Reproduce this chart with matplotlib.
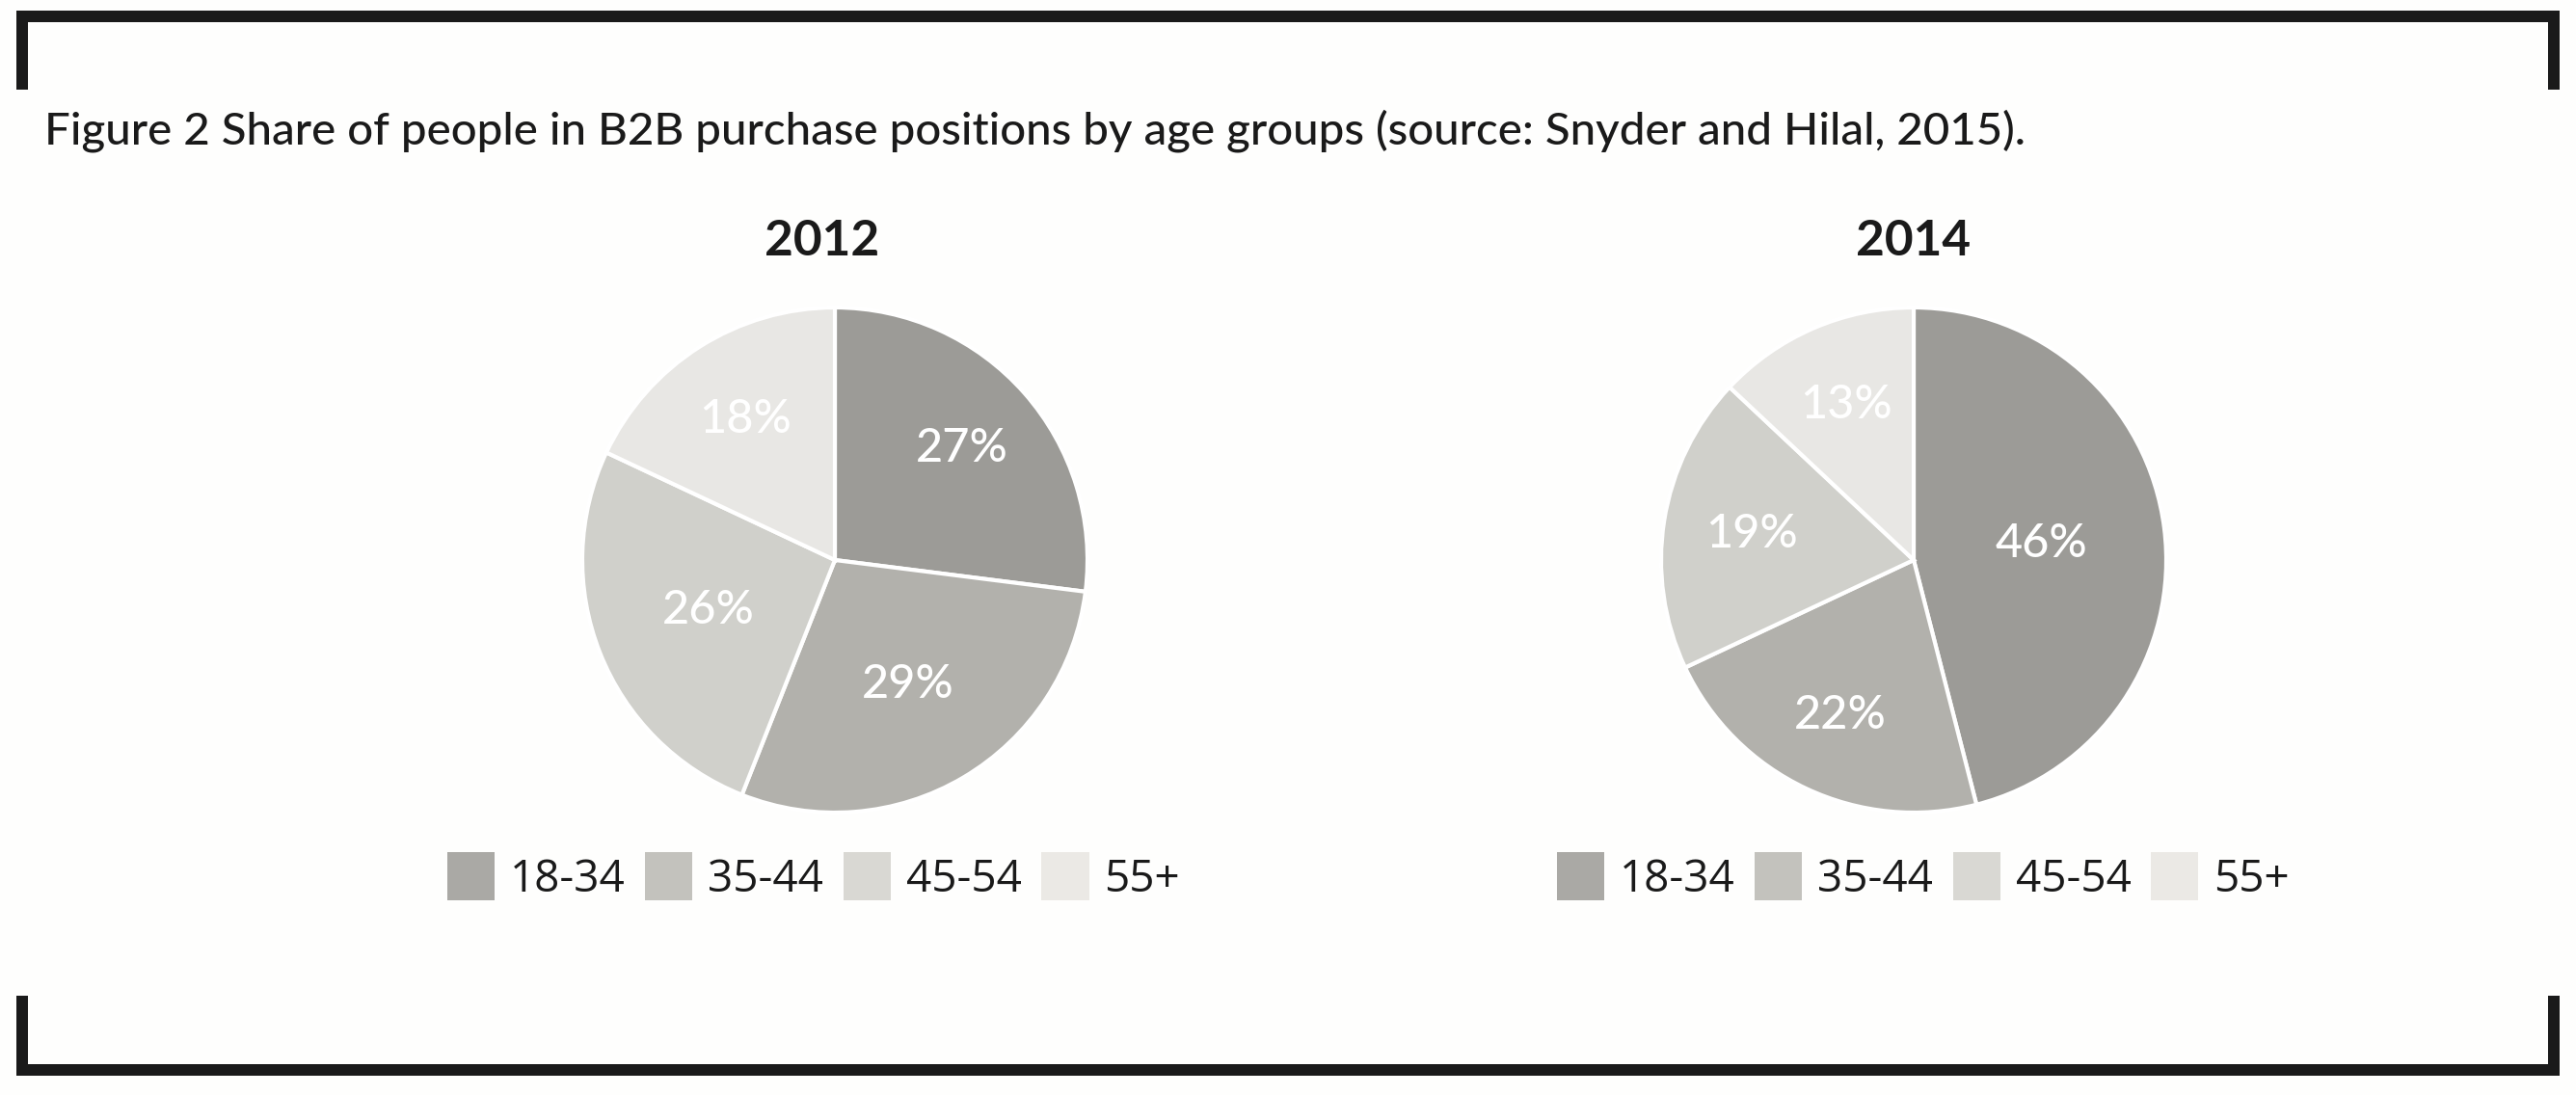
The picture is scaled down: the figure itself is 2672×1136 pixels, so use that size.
import numpy as np
import matplotlib.pyplot as plt
from matplotlib.patches import Rectangle, Patch

age_groups = ['18-34', '35-44', '45-54', '55+']
years = ['2012', '2014']
share_2012 = [27, 29, 26, 18]
share_2014 = [46, 22, 19, 13]
title = ('Figure 2 Share of people in B2B purchase positions by age groups '
         '(source: Snyder and Hilal, 2015).')

# --- styles / layout (pixels, origin top-left) ---
W, H, DPI = 2672, 1136, 100
ink = '#1a1a1a'
slice_colors = ['#9c9b97', '#b2b1ac', '#d0d0cb', '#e8e7e4']
legend_colors = ['#aaa9a5', '#c3c2bd', '#d9d8d3', '#ebe9e5']
label_radius = [[0.67, 0.57, 0.54, 0.66], [0.51, 0.68, 0.65, 0.67]]
pie_centers = [(866, 581), (1985, 581)]
year_x = [853, 1985]
legend_x = [844, 1995]
R = 262
frame_bars = [
    (17, 11, 2655, 23), (17, 11, 29, 93), (2643, 11, 2655, 93),
    (17, 1104, 2655, 1116), (17, 1033, 29, 1116), (2643, 1033, 2655, 1116),
]
medium = ['Lato', 'Open Sans', 'DejaVu Sans']

plt.rcParams['font.family'] = ['Open Sans', 'DejaVu Sans']

fig = plt.figure(figsize=(W / DPI, H / DPI), dpi=DPI)
fig.patch.set_facecolor('#fefefd')

bg = fig.add_axes([0, 0, 1, 1])
bg.set_xlim(0, W)
bg.set_ylim(H, 0)
bg.axis('off')
for x0, y0, x1, y1 in frame_bars:
    bg.add_patch(Rectangle((x0, y0), x1 - x0, y1 - y0, color=ink, lw=0))

t = bg.text(46, 149, title, fontsize=33, family=medium, fontweight='medium',
            color=ink, ha='left', va='baseline')
fig.canvas.draw()
t.set_fontsize(33 * 2052 / t.get_window_extent().width)

for i, shares in enumerate([share_2012, share_2014]):
    cx, cy = pie_centers[i]
    ax = fig.add_axes([(cx - R) / W, 1 - (cy + R) / H, 2 * R / W, 2 * R / H])
    wedges, _, autotexts = ax.pie(
        shares, colors=slice_colors, startangle=90, counterclock=False,
        autopct='%.0f%%', pctdistance=0.62,
        wedgeprops=dict(edgecolor='white', linewidth=3),
        textprops=dict(color='white', fontsize=35, family=medium,
                       fontweight='medium'))
    ax.set_xlim(-1, 1)
    ax.set_ylim(-1, 1)
    for w, txt, r in zip(wedges, autotexts, label_radius[i]):
        a = np.deg2rad((w.theta1 + w.theta2) / 2)
        txt.set_position((r * np.cos(a), r * np.sin(a)))

    bg.text(year_x[i], 265, years[i], fontsize=37, fontweight='bold',
            family=['Lato', 'DejaVu Sans'], color=ink,
            ha='center', va='baseline')

    handles = [Patch(facecolor=c, edgecolor='none') for c in legend_colors]
    leg = fig.legend(handles, age_groups, loc='center', ncol=4,
                     bbox_to_anchor=(legend_x[i] / W, 1 - 910 / H),
                     frameon=False, fontsize=33, handlelength=1.07,
                     handleheight=1.3, handletextpad=0.35,
                     columnspacing=0.45, borderpad=0, borderaxespad=0)
    for lt in leg.get_texts():
        lt.set_color(ink)

fig.savefig('out.png', dpi=DPI, facecolor=fig.get_facecolor())
